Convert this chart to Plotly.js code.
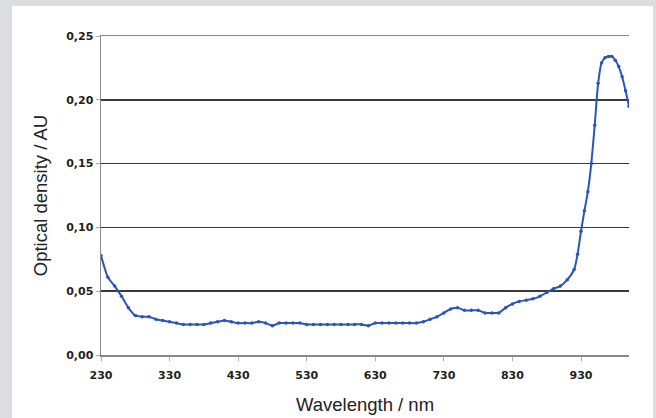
<!DOCTYPE html>
<html>
<head>
<meta charset="utf-8">
<script src="https://cdn.plot.ly/plotly-3.0.1.min.js"></script>
<style>html,body{margin:0;padding:0;background:#dcdde0;}#chart{width:656px;height:418px;}</style>
</head>
<body>
<div id="chart"></div>
<script>
const wavelength = [230,240,250,260,270,280,290,300,310,320,330,340,350,360,370,380,390,400,410,420,430,440,450,460,470,480,490,500,510,520,530,540,550,560,570,580,590,600,610,620,630,640,650,660,670,680,690,700,710,720,730,740,750,760,770,780,790,800,810,820,830,840,850,860,870,880,890,900,910,920,925,930,935,940,945,950,955,960,965,970,975,980,985,990,995,1000];
const opticalDensity = [0.078,0.061,0.054,0.046,0.037,0.031,0.030,0.030,0.028,0.027,0.026,0.025,0.024,0.024,0.024,0.024,0.025,0.026,0.027,0.026,0.025,0.025,0.025,0.026,0.025,0.023,0.025,0.025,0.025,0.025,0.024,0.024,0.024,0.024,0.024,0.024,0.024,0.024,0.024,0.023,0.025,0.025,0.025,0.025,0.025,0.025,0.025,0.026,0.028,0.030,0.033,0.036,0.037,0.035,0.035,0.035,0.033,0.033,0.033,0.037,0.040,0.042,0.043,0.044,0.046,0.049,0.052,0.054,0.059,0.067,0.079,0.097,0.113,0.128,0.150,0.180,0.213,0.229,0.233,0.234,0.234,0.231,0.226,0.218,0.207,0.195];
const xTicks = [230,330,430,530,630,730,830,930];
const yTicks = [0,0.05,0.10,0.15,0.20,0.25];

const trace = {
  x: wavelength, y: opticalDensity, type: 'scatter', mode: 'lines+markers',
  line: {color: '#2a55bd', width: 2, shape: 'spline', smoothing: 0.6},
  marker: {color: '#2a55bd', size: 3.5},
  hoverinfo: 'skip', showlegend: false
};

const tickFont = {family: 'DejaVu Sans, sans-serif', size: 11, color: '#222', weight: 'bold'};
const titleFont = {family: 'Liberation Sans, Arial, sans-serif', size: 18.5, color: '#222'};

const layout = {
  width: 656, height: 418,
  margin: {l: 101, r: 27, t: 36, b: 63},
  paper_bgcolor: '#dcdde0', plot_bgcolor: 'rgba(0,0,0,0)',
  separators: ',.',
  xaxis: {
    range: [230, 1000], tickvals: xTicks, ticktext: xTicks.map(String),
    showgrid: false, zeroline: false,
    showline: true, linecolor: '#8a8a8a', linewidth: 1.5, mirror: true,
    ticks: 'outside', ticklen: 4, tickcolor: '#aaa', tickwidth: 1,
    ticklabelstandoff: 5,
    tickfont: tickFont,
    title: {text: 'Wavelength / nm', font: titleFont, standoff: 17},
    automargin: false, fixedrange: true
  },
  yaxis: {
    range: [0, 0.25], tickvals: yTicks, tickformat: '.2f',
    showgrid: true, gridcolor: '#3a3a3a', gridwidth: 1.5, zeroline: false,
    showline: true, linecolor: '#8a8a8a', linewidth: 1.5,
    ticks: 'outside', ticklen: 4, tickcolor: '#aaa', tickwidth: 1,
    tickfont: tickFont,
    title: {text: 'Optical density / AU', font: titleFont, standoff: 13},
    automargin: false, fixedrange: true
  },
  shapes: [
    {type: 'rect', xref: 'paper', yref: 'paper', x0: -0.1686, x1: 1.0455, y0: -0.3, y1: 1.094,
     fillcolor: '#ffffff', line: {width: 0}, layer: 'below'}
  ]
};

Plotly.newPlot('chart', [trace], layout, {staticPlot: true, displayModeBar: false});
</script>
</body>
</html>
